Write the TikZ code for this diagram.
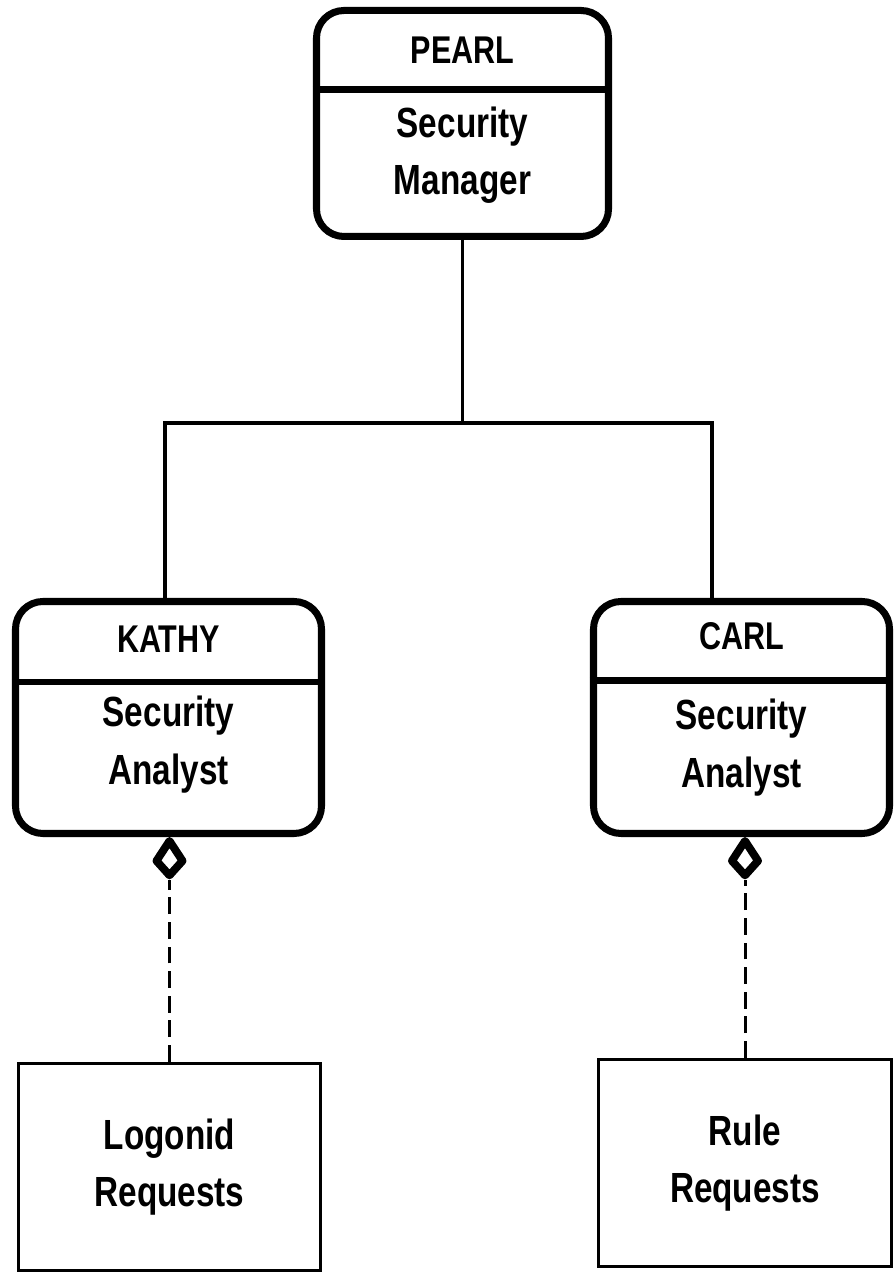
\documentclass[tikz,border=0pt]{standalone}
\usepackage{fontspec}
\setmainfont{Liberation Sans}[FakeStretch=0.79]
\usetikzlibrary{positioning,arrows.meta}

\begin{document}
\begin{tikzpicture}
\useasboundingbox (0,0) rectangle (17.9,25.52);
\tikzset{
  role/.style={draw, line width=4pt, rounded corners=0.55cm, inner sep=0pt},
  plain/.style={draw, line width=2pt, inner sep=0pt, minimum height=4.14cm},
  person/.style={font=\fontsize{22}{26}\selectfont\bfseries, inner sep=0pt},
  txt/.style={font=\fontsize{24}{32.5}\selectfont\bfseries, align=center, inner sep=0pt},
  bar/.style={line width=3.6pt},
  link/.style={line width=2pt},
  uses/.style={line width=1.7pt, dash pattern=on 9.5pt off 4.5pt,
    -{Kite[open, length=0.95cm, width=0.72cm, inset=0.4cm, line width=4.5pt, round]}}
}
\def\xl{3.37}
\def\xm{9.25}
\def\xr{14.83}
\def\ya{23.05}
\def\yb{11.17}
\def\ys{17.06}

% boxes
\node[role, minimum width=5.84cm, minimum height=4.52cm] (pearl) at (\xm, \ya) {};
\node[role, minimum width=6.12cm, minimum height=4.64cm] (kathy) at (\xl, \yb) {};
\node[role, minimum width=5.92cm, minimum height=4.64cm] (carl) at (\xr, \yb) {};
\node[plain, minimum width=6.04cm] (logon) at (3.39, 2.18) {};
\node[plain, minimum width=5.86cm] (rule) at (14.9, 2.26) {};

\draw[bar] ([yshift=-1.65cm]pearl.north west) -- ([yshift=-1.65cm]pearl.north east);
\draw[bar] ([yshift=-1.68cm]kathy.north west) -- ([yshift=-1.68cm]kathy.north east);
\draw[bar] ([yshift=-1.65cm]carl.north west) -- ([yshift=-1.65cm]carl.north east);

% texts
\node[person, below=0.6cm of pearl.north] (pearlname) {PEARL};
\node[txt, below=2.0cm of pearl.north] (pearlrole) {Security\\Manager};
\node[person, below=0.56cm of kathy.north] (kathyname) {KATHY};
\node[txt, below=1.96cm of kathy.north] (kathyrole) {Security\\Analyst};
\node[person, below=0.48cm of carl.north] (carlname) {CARL};
\node[txt, below=2.02cm of carl.north] (carlrole) {Security\\Analyst};
\node[txt] (logontext) at (logon.center) {Logonid\\Requests};
\node[txt] (ruletext) at (rule.center) {Rule\\Requests};

% tree
\coordinate (split) at (\xm, \ys);
\draw[link] (pearl.south) -- (split);
\draw[link] (split) -| ([xshift=-0.07cm]kathy.north);
\draw[link] (split) -| ([xshift=-0.59cm]carl.north);

\draw[uses] (logon.north) -- (logon.north |- kathy.south);
\draw[uses] (rule.north) -- (rule.north |- carl.south);

\end{tikzpicture}
\end{document}
